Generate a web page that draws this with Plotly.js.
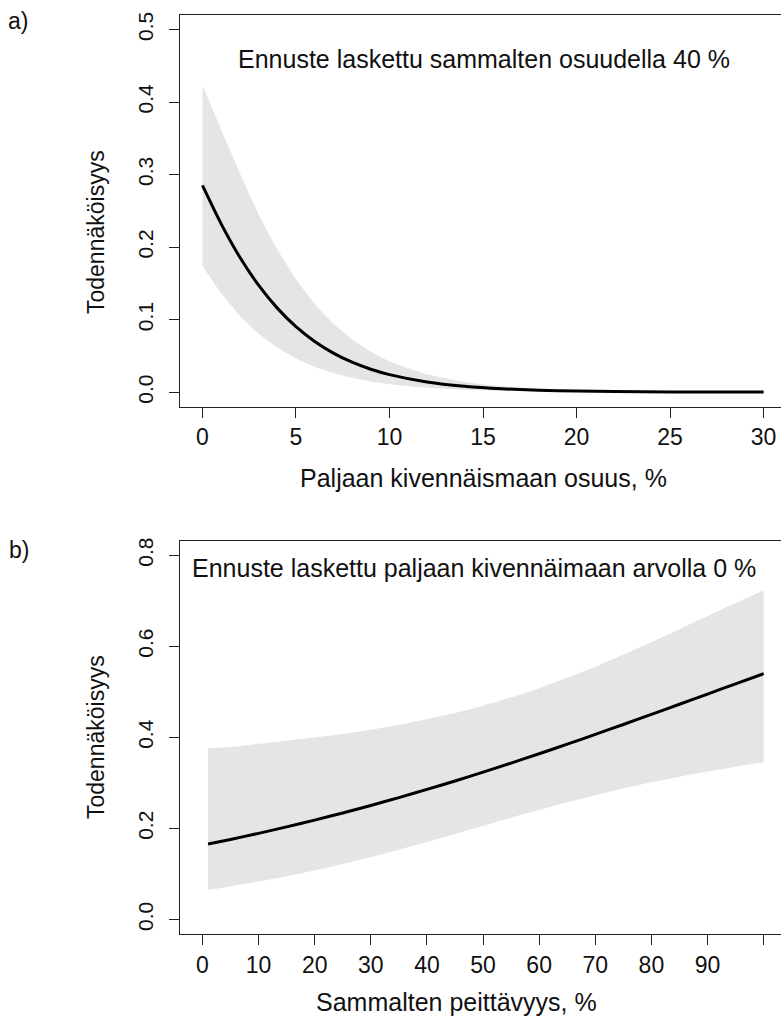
<!DOCTYPE html>
<html>
<head>
<meta charset="utf-8">
<script src="https://cdn.plot.ly/plotly-3.0.1.min.js"></script>
<style>
  html, body { margin: 0; padding: 0; background: #fff; overflow: hidden; }
  #chart { width: 781px; height: 1024px; }
</style>
</head>
<body>
<div id="chart"></div>
<script>
// ---------- Panel a: bare mineral soil share ----------
const aX     = [0, 1, 2, 3, 4, 5, 6, 7, 8, 9, 10, 12, 14, 16, 18, 20, 22, 25, 30];
const aFit   = [0.285, 0.232, 0.186, 0.1475, 0.1159, 0.0903, 0.0699, 0.0539, 0.0413, 0.0316, 0.0242, 0.0140, 0.0081, 0.0046, 0.0027, 0.0015, 0.0009, 0.0004, 0.0001];
const aLower = [0.174, 0.1366, 0.1055, 0.0808, 0.0615, 0.0466, 0.0351, 0.0264, 0.0198, 0.0148, 0.0111, 0.0062, 0.0035, 0.0019, 0.0011, 0.0006, 0.0003, 0.0001, 0.0000];
const aUpper = [0.423, 0.362, 0.302, 0.2456, 0.197, 0.156, 0.122, 0.0947, 0.073, 0.056, 0.0427, 0.0246, 0.0141, 0.0081, 0.0046, 0.0026, 0.0015, 0.0006, 0.0002];
const aXTicks = [0, 5, 10, 15, 20, 25, 30];
const aYTicks = [0.0, 0.1, 0.2, 0.3, 0.4, 0.5];
const aYTickText = ["0.0", "0.1", "0.2", "0.3", "0.4", "0.5"];

// ---------- Panel b: moss cover ----------
const bX     = [1, 5, 10, 15, 20, 25, 30, 35, 40, 45, 50, 55, 60, 65, 70, 75, 80, 85, 90, 95, 100];
const bFit   = [0.1656, 0.1758, 0.1891, 0.2033, 0.2182, 0.2339, 0.2504, 0.2676, 0.2856, 0.3042, 0.3235, 0.3435, 0.364, 0.385, 0.4065, 0.4283, 0.4504, 0.4727, 0.4951, 0.5176, 0.5399];
const bLower = [0.065, 0.0726, 0.0831, 0.0948, 0.1076, 0.1218, 0.1369, 0.1531, 0.1701, 0.1877, 0.2056, 0.2234, 0.2407, 0.2574, 0.2730, 0.2876, 0.3011, 0.3135, 0.3249, 0.3355, 0.3452];
const bUpper = [0.376, 0.379, 0.3857, 0.3927, 0.3998, 0.4072, 0.4167, 0.4275, 0.4398, 0.4533, 0.4694, 0.4875, 0.5081, 0.5308, 0.5553, 0.5816, 0.6092, 0.6376, 0.6664, 0.6951, 0.7231];
const bXTicks = [0, 10, 20, 30, 40, 50, 60, 70, 80, 90, 100];
const bXTickText = ["0", "10", "20", "30", "40", "50", "60", "70", "80", "90", ""];
const bYTicks = [0.0, 0.2, 0.4, 0.6, 0.8];
const bYTickText = ["0.0", "0.2", "0.4", "0.6", "0.8"];

// ---------- Texts ----------
const panelLabels = ["a)", "b)"];
const noteA = "Ennuste laskettu sammalten osuudella 40 %";
const noteB = "Ennuste laskettu paljaan kivennäimaan arvolla 0 %";
const xTitleA = "Paljaan kivennäismaan osuus, %";
const xTitleB = "Sammalten peittävyys, %";
const yTitle = "Todennäköisyys";

const W = 781, H = 1024;
const FONT = "Liberation Sans, Arial, Helvetica, sans-serif";
const BAND = "#e5e5e5";
const AXC = "#222222";
const px = v => v / W;
const py = v => 1 - v / H;

function band(x, lo, hi, xa, ya) {
  return [
    {x: x, y: lo, xaxis: xa, yaxis: ya, type: "scatter", mode: "lines",
     line: {width: 0, shape: "spline", smoothing: 0.6}, hoverinfo: "skip", showlegend: false},
    {x: x, y: hi, xaxis: xa, yaxis: ya, type: "scatter", mode: "lines",
     fill: "tonexty", fillcolor: BAND,
     line: {width: 0, shape: "spline", smoothing: 0.6}, hoverinfo: "skip", showlegend: false}
  ];
}
function fit(x, y, xa, ya) {
  return {x: x, y: y, xaxis: xa, yaxis: ya, type: "scatter", mode: "lines",
          line: {color: "#000", width: 3, shape: "spline", smoothing: 0.6}, showlegend: false};
}

const data = [
  ...band(aX, aLower, aUpper, "x", "y"),
  fit(aX, aFit, "x", "y"),
  ...band(bX, bLower, bUpper, "x2", "y2"),
  fit(bX, bFit, "x2", "y2")
];

function xAxis(range, ticks, text, anchor) {
  return {
    domain: [px(180), 1], anchor: anchor, range: range,
    tickmode: "array", tickvals: ticks, ticktext: text,
    ticks: "outside", ticklen: 10, tickwidth: 1, tickcolor: AXC,
    showline: true, linecolor: AXC, linewidth: 1, mirror: true,
    showgrid: false, zeroline: false,
    tickfont: {family: FONT, size: 23, color: "#111"},
    ticklabelstandoff: 0, fixedrange: true
  };
}
function yAxis(range, ticks, text, anchor, domain) {
  return {
    domain: domain, anchor: anchor, range: range,
    tickmode: "array", tickvals: ticks, ticktext: text, tickangle: -90,
    ticks: "outside", ticklen: 10, tickwidth: 1, tickcolor: AXC,
    showline: true, linecolor: AXC, linewidth: 1, mirror: false,
    showgrid: false, zeroline: false,
    tickfont: {family: FONT, size: 21, color: "#111"},
    ticklabelstandoff: 8, fixedrange: true
  };
}

const layout = {
  width: W, height: H,
  margin: {l: 0, r: 0, t: 0, b: 0},
  paper_bgcolor: "#fff", plot_bgcolor: "#fff",
  showlegend: false,
  xaxis: xAxis([-1.2, 30.93], aXTicks, aXTicks.map(String), "y"),
  yaxis: yAxis([-0.02, 0.52], aYTicks, aYTickText, "x", [py(406.7), py(15)]),
  xaxis2: xAxis([-4, 103.09], bXTicks, bXTickText, "y2"),
  yaxis2: yAxis([-0.032, 0.832], bYTicks, bYTickText, "x2", [py(934), py(540.7)]),
  annotations: [
    {text: panelLabels[0], xref: "paper", yref: "paper", x: px(6), y: py(21), xanchor: "left", yanchor: "middle",
     showarrow: false, font: {family: FONT, size: 23, color: "#111"}},
    {text: panelLabels[1], xref: "paper", yref: "paper", x: px(7), y: py(550), xanchor: "left", yanchor: "middle",
     showarrow: false, font: {family: FONT, size: 23, color: "#111"}},
    {text: noteA, xref: "paper", yref: "paper", x: px(236), y: py(59), xanchor: "left", yanchor: "middle",
     showarrow: false, font: {family: FONT, size: 25, color: "#111"}},
    {text: noteB, xref: "paper", yref: "paper", x: px(190), y: py(568), xanchor: "left", yanchor: "middle",
     showarrow: false, font: {family: FONT, size: 25, color: "#111"}},
    {text: xTitleA, xref: "paper", yref: "paper", x: px(483), y: py(478), xanchor: "center", yanchor: "middle",
     showarrow: false, font: {family: FONT, size: 25, color: "#111"}},
    {text: xTitleB, xref: "paper", yref: "paper", x: px(457), y: py(1002), xanchor: "center", yanchor: "middle",
     showarrow: false, font: {family: FONT, size: 25, color: "#111"}},
    {text: yTitle, xref: "paper", yref: "paper", x: px(96), y: py(232), xanchor: "center", yanchor: "middle",
     textangle: -90, showarrow: false, font: {family: FONT, size: 23, color: "#111"}},
    {text: yTitle, xref: "paper", yref: "paper", x: px(96), y: py(737), xanchor: "center", yanchor: "middle",
     textangle: -90, showarrow: false, font: {family: FONT, size: 23, color: "#111"}}
  ]
};

Plotly.newPlot("chart", data, layout, {displayModeBar: false, staticPlot: true});
</script>
</body>
</html>
